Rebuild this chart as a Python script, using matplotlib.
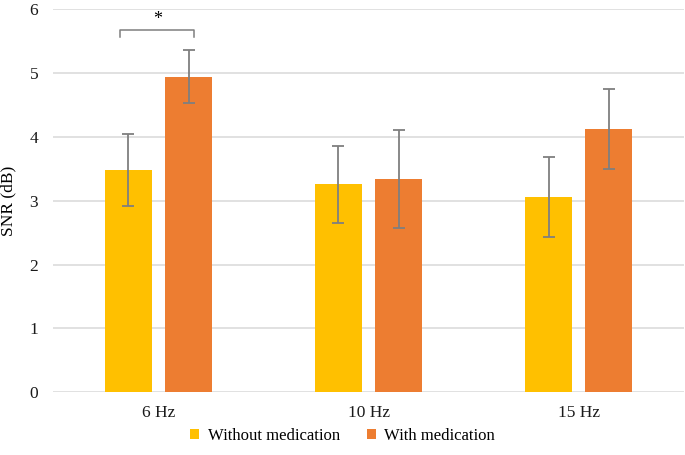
import numpy as np
import matplotlib.pyplot as plt

plt.rcParams['font.family'] = ['Liberation Serif', 'DejaVu Serif']

categories = ['6 Hz', '10 Hz', '15 Hz']
without_med = [3.48, 3.255, 3.06]
without_err = [0.565, 0.605, 0.625]
with_med = [4.94, 3.34, 4.12]
with_err = [0.41, 0.765, 0.62]
ticks = [0, 1, 2, 3, 4, 5, 6]

fig = plt.figure(figsize=(6.85, 4.55), dpi=100)
ax = fig.add_axes([0.078, 0.1378, 0.92, 0.8426])

x = np.arange(len(categories))
w = 0.224
off = 0.143
ekw = dict(ecolor='#7f7f7f', elinewidth=1.3, capsize=4.5, capthick=1.3)
ax.bar(x - off, without_med, w, color='#FFC000', yerr=without_err,
       error_kw=ekw, label='Without medication', zorder=2)
ax.bar(x + off, with_med, w, color='#ED7D31', yerr=with_err,
       error_kw=ekw, label='With medication', zorder=2)

# significance bracket
bx0, bx1 = x[0] - 0.183, x[0] + 0.17
ax.plot([bx0, bx0, bx1, bx1], [5.565, 5.67, 5.67, 5.565], color='#7f7f7f', lw=1.1, zorder=3)
ax.text(x[0] - 0.006, 5.84, '*', ha='center', va='center', fontsize=13)

ax.set_xlim(-0.5, 2.5)
ax.set_ylim(0, 6)
ax.set_yticks(ticks)
ax.set_xticks(x)
ax.set_xticklabels(categories)
ax.tick_params(length=0, labelsize=12.5, colors='#1a1a1a')
ax.tick_params(axis='x', pad=9)
ax.tick_params(axis='y', pad=14)
for lab in ax.get_yticklabels():
    lab.set_horizontalalignment('center')
ax.grid(axis='y', color='#d9d9d9', lw=1.1, zorder=0)
for s in ax.spines.values():
    s.set_visible(False)
ax.set_ylabel('SNR (dB)', fontsize=12.5)
ax.yaxis.set_label_coords(-0.058, 0.5)

fig.legend(loc='center', bbox_to_anchor=(0.5, 0.042), ncol=2, frameon=False,
           fontsize=12, handlelength=0.55, handleheight=0.55, handletextpad=0.5,
           columnspacing=1.6)

fig.savefig('out.png', dpi=100)
